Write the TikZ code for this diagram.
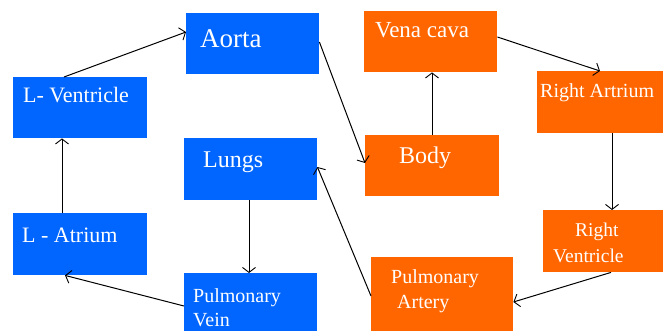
\documentclass[tikz,border=0pt]{standalone}
\usepackage{fontspec}
\setmainfont{Liberation Serif}
\usetikzlibrary{arrows.meta}
\definecolor{bbox}{RGB}{0,102,255}
\definecolor{obox}{RGB}{255,102,0}
\tikzset{
  boxb/.style={rectangle, fill=bbox, draw=none, inner sep=0pt, anchor=north west},
  boxo/.style={rectangle, fill=obox, draw=none, inner sep=0pt, anchor=north west},
  lbl/.style={text=white, inner sep=0pt, anchor=base west},
  arr/.style={line width=1pt, black, -{Straight Barb[length=5pt,width=13pt,line width=0.9pt]}}
}
\newcommand{\fsz}[1]{\fontsize{#1}{#1}\selectfont}
\begin{document}
\begin{tikzpicture}[x=1pt,y=-1pt]
\useasboundingbox (0,0) rectangle (663,330);
% boxes
\node[boxb, minimum width=134pt, minimum height=61pt] (lv) at (13,77) {};
\node[boxb, minimum width=133pt, minimum height=61pt] (ao) at (186,13) {};
\node[boxb, minimum width=133pt, minimum height=62pt] (lu) at (184,138) {};
\node[boxb, minimum width=134pt, minimum height=62pt] (la) at (13,213) {};
\node[boxb, minimum width=133pt, minimum height=60pt] (pv) at (184,273) {};
\node[boxo, minimum width=133pt, minimum height=61pt] (vc) at (364,11) {};
\node[boxo, minimum width=130pt, minimum height=62pt] (ra) at (537,71) {};
\node[boxo, minimum width=134pt, minimum height=61pt] (bo) at (365,135) {};
\node[boxo, minimum width=124pt, minimum height=62pt] (rv) at (543,210) {};
\node[boxo, minimum width=142pt, minimum height=76pt] (pa) at (371,257) {};
% labels
\node[lbl] (tao) at (200,47) {\fsz{27}Aorta};
\node[lbl] (tlv) at (23,102) {\fsz{22}L- Ventricle};
\node[lbl] (tvc) at (375,37) {\fsz{23}Vena cava};
\node[lbl] (tra) at (540,97) {\fsz{20}Right Artrium};
\node[lbl] (tbo) at (399,163) {\fsz{24}Body};
\node[lbl] (tlu) at (203,167) {\fsz{24}Lungs};
\node[lbl] (tla) at (22,242) {\fsz{22}L - Atrium};
\node[lbl] (tpv1) at (193,302) {\fsz{20}Pulmonary};
\node[lbl] (tpv2) at (193,326) {\fsz{20}Vein};
\node[lbl] (trv1) at (575,236) {\fsz{19.5}Right};
\node[lbl] (trv2) at (553,262) {\fsz{19.5}Ventricle};
\node[lbl] (tpa1) at (391,283) {\fsz{20}Pulmonary};
\node[lbl] (tpa2) at (397,308) {\fsz{20}Artery};
% connectors
\draw[arr] ([xshift=51pt]lv.north west) -- ([yshift=-19pt]ao.north west);
\draw[arr] ([yshift=-29pt]ao.north east) -- ([yshift=-28pt]bo.north west);
\draw[arr] ([xshift=67pt]bo.north west) -- ([xshift=68pt]vc.south west);
\draw[arr] ([yshift=-26pt]vc.north east) -- ([xshift=63pt]ra.north west);
\draw[arr] ([xshift=75pt]ra.south west) -- ([xshift=69pt]rv.north west);
\draw[arr] ([xshift=68pt]rv.south west) -- ([yshift=-45pt]pa.north east);
\draw[arr] ([yshift=-39pt]pa.north west) -- ([yshift=-29pt]lu.north east);
\draw[arr] ([xshift=65pt]lu.south west) -- ([xshift=65pt]pv.north west);
\draw[arr] ([yshift=-33pt]pv.north west) -- ([xshift=52pt]la.south west);
\draw[arr] ([xshift=49pt]la.north west) -- ([xshift=49pt]lv.south west);
\end{tikzpicture}
\end{document}
